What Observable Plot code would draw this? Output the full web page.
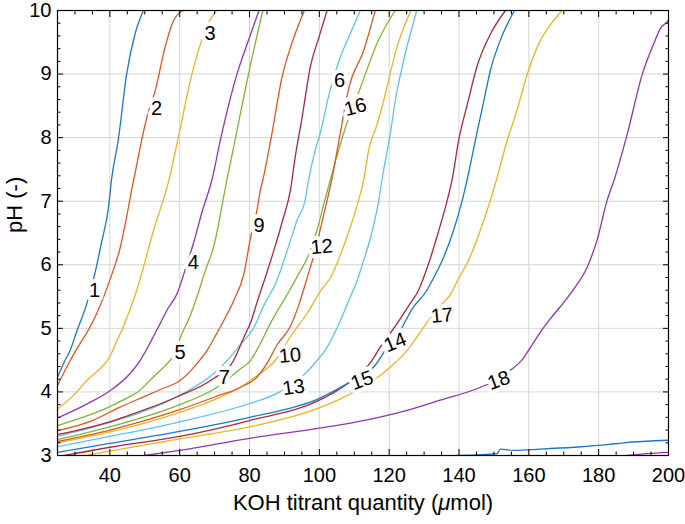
<!DOCTYPE html>
<html><head><meta charset="utf-8">
<script src="https://cdn.jsdelivr.net/npm/d3@7"></script>
<script src="https://cdn.jsdelivr.net/npm/@observablehq/plot@0.6"></script>
<style>body{margin:0;background:#fff;}</style>
</head><body><div id="chart"></div>
<script>
// ---- data: titration curves (KOH µmol, pH) ----
const c1 = [[25,4.23],[27,4.48],[28.6,4.65],[30.5,4.95],[33.4,5.39],[35.7,5.86],[37.6,6.35],[39.6,6.9],[40.5,7.35],[42.4,7.96],[44.8,9.0],[47.2,9.63],[49.6,10]];
const c2 = [[25,4.1],[28.6,4.49],[31,4.72],[33.8,4.97],[36.2,5.23],[39.6,5.7],[43,6.28],[46.8,7.33],[50.6,8.32],[53,8.74],[55.8,9.42],[58.2,9.84],[61,10]];
const c3 = [[25,3.73],[30,3.97],[33.4,4.18],[36.7,4.34],[39.6,4.52],[42,4.8],[43.8,5.02],[47.7,5.6],[52.5,6.54],[57,7.35],[59.6,8.0],[63.5,9.0],[66.3,9.53],[69.2,9.9],[70.6,10]];
const c4 = [[25,3.59],[33.8,3.82],[39.5,4.0],[45.8,4.29],[48.6,4.49],[53.4,4.97],[56.5,5.3],[59.2,5.54],[62,6.0],[63.9,6.33],[66.5,6.85],[69.2,7.33],[71.8,8.0],[76.4,9.0],[79.5,9.5],[82.7,10]];
const c5 = [[25,3.47],[33.8,3.63],[40,3.77],[44,3.88],[48,4.0],[52.5,4.24],[56.3,4.44],[58,4.55],[60.6,4.91],[63,5.2],[64.9,5.49],[67.3,5.9],[69.7,6.28],[73.5,7.33],[76,8.0],[79.7,9.0],[83.8,10]];
const c6 = [[25,3.3],[40,3.52],[50,3.7],[60,3.95],[70,4.3],[74,4.52],[77.3,4.74],[81.1,5.0],[84,5.35],[87.8,5.75],[91.7,6.38],[93.6,6.7],[95.9,7.01],[96.9,7.33],[98.8,7.8],[100.2,8.06],[102.6,8.64],[105.5,9.19],[108.8,9.63],[111.7,10]];
const c7 = [[25,3.33],[40,3.53],[50,3.72],[60,3.94],[69.7,4.21],[75.4,4.49],[78.4,4.86],[80.5,5.12],[82.2,5.42],[84.5,5.8],[87,6.23],[89.5,6.7],[91.7,7.17],[93.1,7.7],[95,8.3],[97.4,9.11],[100,9.6],[102.2,10]];
const c8 = [[139,3.0],[145,3.01],[150.9,3.03],[151.8,3.1],[155.7,3.08],[163.3,3.1],[172.9,3.13],[182.4,3.17],[187.2,3.2],[200,3.24]];
const c9 = [[25,3.39],[35,3.55],[42.9,3.76],[50,3.93],[55,4.05],[60.1,4.18],[65,4.45],[67.8,4.65],[70,4.86],[72.6,5.12],[75.5,5.44],[78.4,5.86],[80.3,6.43],[82.2,6.88],[83.1,7.17],[83.8,7.33],[86.4,8.06],[89.3,8.95],[92.1,9.48],[95.7,10]];
const c10 = [[25,3.2],[40,3.37],[60,3.68],[70,3.88],[77.3,4.07],[82,4.25],[87.3,4.49],[91.6,4.86],[96.4,5.23],[100.5,5.6],[103.2,5.8],[107.2,6.33],[111.2,7.01],[112.7,7.33],[114.1,7.8],[116.5,8.2],[118.4,8.58],[122.2,9.42],[126.2,10]];
const c11 = [[188,3.0],[194,3.03],[200,3.05]];
const c12 = [[25,3.25],[40,3.45],[60,3.8],[70,4.05],[77.3,4.36],[80.2,4.49],[83,4.75],[85.9,5.07],[88.8,5.35],[91.5,5.6],[94,5.85],[96.9,6.15],[99.3,6.54],[101.5,7.0],[103.1,7.33],[105.5,7.8],[107.7,8.2],[110.8,8.64],[113.5,9.05],[116.5,9.48],[121.7,10]];
const c13 = [[25,3.14],[40,3.3],[60,3.53],[79.6,3.81],[88.3,3.99],[92,4.12],[96,4.29],[99.3,4.49],[102.2,4.7],[106,5.12],[108.5,5.45],[110.8,5.75],[112.7,6.07],[115,6.5],[117,7.01],[117.9,7.33],[120.3,8.06],[121.8,8.6],[123.7,9.11],[127.9,10]];
const c14 = [[27,3.0],[40,3.13],[60,3.3],[80,3.55],[100,3.87],[108,4.13],[115,4.49],[117.4,4.7],[122.2,5.07],[125.5,5.35],[128.4,5.6],[131.3,6.02],[134,6.5],[136.6,7.01],[138,7.33],[139.9,7.96],[142.5,8.55],[145.2,9.13],[149,9.63],[153.3,10]];
const c15 = [[25,3.05],[40,3.19],[60,3.38],[80,3.6],[100,3.9],[108,4.13],[116,4.42],[119.4,4.7],[123.2,4.97],[126.5,5.3],[130.8,5.6],[132.3,5.75],[135.6,6.12],[138.5,6.55],[140.9,7.01],[142.3,7.33],[144.7,7.96],[147,8.55],[149,9.06],[151.8,9.53],[155.9,10]];
const c16 = [[25,3.22],[40,3.4],[60,3.72],[70,3.92],[77.3,4.07],[82.1,4.23],[85,4.45],[88,4.75],[91.6,5.02],[94,5.35],[97.4,5.96],[98.3,6.12],[100.2,6.54],[102.2,7.01],[103.6,7.35],[105.1,7.8],[106.9,8.35],[108.4,8.77],[112.7,9.37],[116,10]];
const c17 = [[33,3.0],[40,3.07],[60,3.26],[80,3.45],[100,3.75],[106,3.89],[115.5,4.18],[120.5,4.4],[125.1,4.65],[128.9,4.94],[131.8,5.17],[134.5,5.35],[137.5,5.53],[140,5.8],[142.3,6.02],[147.1,6.7],[150.7,7.33],[153.5,7.9],[156.6,8.43],[159.9,9.06],[163.3,9.53],[166.5,9.8],[169.5,10]];
const c18 = [[50,3.0],[60,3.08],[80,3.27],[100,3.43],[110,3.52],[125.1,3.71],[134.6,3.87],[146,4.07],[151,4.2],[154.7,4.34],[158,4.5],[160.7,4.72],[163.3,4.94],[166,5.14],[169,5.34],[172.9,5.62],[176.7,5.96],[179.6,6.4],[182.4,7.01],[184.4,7.33],[188.2,8.06],[192.5,9.0],[195.8,9.48],[197.7,9.72],[199.6,9.82],[200,9.85]];

const curveIds = [1,2,3,4,5,6,7,8,9,10,11,12,13,14,15,16,17,18];
const curves = [c1,c2,c3,c4,c5,c6,c7,c8,c9,c10,c11,c12,c13,c14,c15,c16,c17,c18];

// inline curve labels
const labelIds   = [1,2,3,4,5,6,7,9,10,12,13,14,15,16,17,18];
const labelX     = [35.6,53.4,68.7,63.9,60.1,105.8,72.8,82.7,91.6,100.7,92.6,121.7,112.2,110.3,135.1,151.4];
const labelY     = [5.6,8.45,9.63,6.04,4.62,8.9,4.23,6.62,4.57,6.28,4.07,4.78,4.18,8.48,5.2,4.18];
const labelAngle = [0,0,0,0,0,0,0,0,-5,-5,-8,-22,-20,-15,-5,-20];

// axes
const xTicks = [40,60,80,100,120,140,160,180,200];
const yTicks = [3,4,5,6,7,8,9,10];
const xLabel = "KOH titrant quantity (μmol)";
const yLabel = "pH (-)";

// styling (not data)
const palette = ["#1A78C6","#E0561F","#F0B323","#9234B4","#7DB834","#5EC3EF","#AD2836"];
const font = "'Liberation Sans', Arial, Helvetica, sans-serif";

const rows = curves.flatMap((pts, i) => pts.map(([x, y]) => ({id: curveIds[i], x, y})));
const labels = labelIds.map((id, i) => ({id: String(id), x: labelX[i], y: labelY[i], a: labelAngle[i]}));
const xMinor = d3.range(30, 200, 5).filter(v => v % 20 !== 0);
const yMinor = d3.range(3.2, 10, 0.2).map(v => +v.toFixed(1)).filter(v => Math.abs(v - Math.round(v)) > 1e-6);

const T = 6, t = 3.5;
const tickStyle = {fill: "none", label: null, stroke: "black", strokeWidth: 1};

const chart = Plot.plot({
  width: 685, height: 524,
  marginLeft: 57, marginRight: 17, marginTop: 10, marginBottom: 69,
  style: {fontFamily: font, fontSize: "20px", background: "white", color: "black"},
  x: {domain: [25, 200]},
  y: {domain: [3, 10]},
  color: {type: "ordinal", domain: curveIds, range: curveIds.map(id => palette[(id - 1) % 7])},
  marks: [
    Plot.gridX(xTicks.filter(v => v < 200), {stroke: "#d6d6d6", strokeOpacity: 1}),
    Plot.gridY(yTicks.filter(v => v > 3 && v < 10), {stroke: "#d6d6d6", strokeOpacity: 1}),
    Plot.line(rows, {x: "x", y: "y", z: "id", stroke: "id", strokeWidth: 1.3, curve: "monotone-x", clip: true}),
    Plot.text(labels, {x: "x", y: "y", text: "id", rotate: "a", fill: "black", stroke: "white", strokeWidth: 8, paintOrder: "stroke", fontSize: 20}),
    Plot.frame({stroke: "black", strokeWidth: 1.2}),
    Plot.axisX(xTicks, {anchor: "bottom", tickSize: T, dy: -T, ...tickStyle}),
    Plot.axisX(xMinor, {anchor: "bottom", tickSize: t, dy: -t, ...tickStyle}),
    Plot.axisX(xTicks, {anchor: "top", tickSize: T, dy: T, ...tickStyle}),
    Plot.axisX(xMinor, {anchor: "top", tickSize: t, dy: t, ...tickStyle}),
    Plot.axisY(yTicks, {anchor: "left", tickSize: T, dx: T, ...tickStyle}),
    Plot.axisY(yMinor, {anchor: "left", tickSize: t, dx: t, ...tickStyle}),
    Plot.axisY(yTicks, {anchor: "right", tickSize: T, dx: -T, ...tickStyle}),
    Plot.axisY(yMinor, {anchor: "right", tickSize: t, dx: -t, ...tickStyle}),
    Plot.axisX(xTicks, {anchor: "bottom", tickSize: 0, tickPadding: 12, label: null, fill: "black", fontSize: 20, tickFormat: d => String(d)}),
    Plot.axisY(yTicks, {anchor: "left", tickSize: 0, tickPadding: 6, label: null, fill: "black", fontSize: 20, tickFormat: d => String(d)}),
    Plot.text([xLabel], {frameAnchor: "bottom", dy: 54, fontSize: 22, fill: "black"}),
    Plot.text([yLabel], {frameAnchor: "left", dx: -43, rotate: -90, fontSize: 22, fill: "black"})
  ]
});
document.getElementById("chart").appendChild(chart);
// italic mu as in the original TeX rendering
chart.querySelectorAll("text").forEach(el => {
  if (el.textContent === xLabel) {
    const parts = xLabel.split("μ");
    el.textContent = "";
    const ns = "http://www.w3.org/2000/svg";
    const a = document.createElementNS(ns, "tspan"); a.textContent = parts[0];
    const m = document.createElementNS(ns, "tspan"); m.textContent = "μ"; m.setAttribute("font-style", "italic");
    const b = document.createElementNS(ns, "tspan"); b.textContent = parts[1];
    el.append(a, m, b);
  }
});
</script>
</body></html>
